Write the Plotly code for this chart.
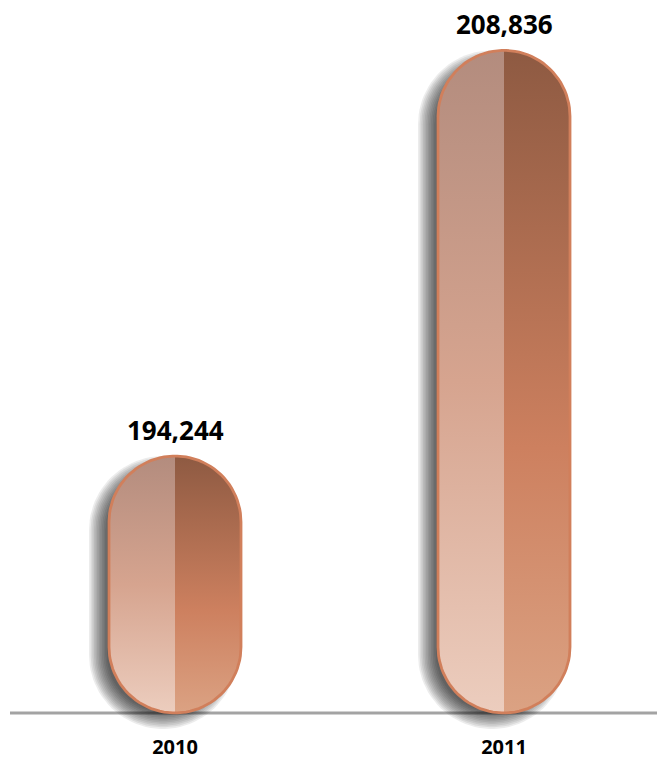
import numpy as np
import plotly.graph_objects as go

# ---- data ----
years = ["2010", "2011"]
values = [194244, 208836]
axis_floor = 185000

# ---- layout geometry ----
W, H = 657, 761
M = dict(l=10, r=0, t=18, b=28)
X_RANGE = [-0.50152, 1.46505]
Y_RANGE = [184280, 210000]
kx = (W - M["l"] - M["r"]) / (X_RANGE[1] - X_RANGE[0])
ky = (H - M["t"] - M["b"]) / (Y_RANGE[1] - Y_RANGE[0])

HALF_W = 66  # px half width of the pill


def pill(cx, base, top, half, grow=0.0, dx=0.0, dy=0.0, side=None, n=48):
    """Pill outline in data coords; internal math in pixel units (y up)."""
    X0 = cx * kx + dx
    Yb = base * ky + half + dy
    Yt = top * ky - half + dy
    r = half + grow
    if side == "left":
        a1 = np.linspace(np.pi / 2, np.pi, n)
        a2 = np.linspace(np.pi, 1.5 * np.pi, n)
        xs = np.concatenate([X0 + r * np.cos(a1), X0 + r * np.cos(a2), [X0 + r * np.cos(a1[0])]])
        ys = np.concatenate([Yt + r * np.sin(a1), Yb + r * np.sin(a2), [Yt + r * np.sin(a1[0])]])
    elif side == "right":
        a1 = np.linspace(1.5 * np.pi, 2 * np.pi, n)
        a2 = np.linspace(0, np.pi / 2, n)
        xs = np.concatenate([X0 + r * np.cos(a1), X0 + r * np.cos(a2), [X0 + r * np.cos(a1[0])]])
        ys = np.concatenate([Yb + r * np.sin(a1), Yt + r * np.sin(a2), [Yb + r * np.sin(a1[0])]])
    else:
        a1 = np.linspace(0, np.pi, n)
        a2 = np.linspace(np.pi, 2 * np.pi, n)
        xs = np.concatenate([X0 + r * np.cos(a1), X0 + r * np.cos(a2), [X0 + r]])
        ys = np.concatenate([Yt + r * np.sin(a1), Yb + r * np.sin(a2), [Yt]])
    return xs / kx, ys / ky


fig = go.Figure()
xpos = list(range(len(years)))

# soft drop shadows
N_SH = 12
for cx, v in zip(xpos, values):
    for i in range(N_SH):
        g = -10 + 18 * i / (N_SH - 1)
        xs, ys = pill(cx, axis_floor, v, HALF_W, grow=g, dx=-12, dy=-8)
        fig.add_trace(go.Scatter(x=xs, y=ys, mode="lines", fill="toself",
                                 fillcolor="rgba(0,0,0,0.075)", line=dict(width=0),
                                 hoverinfo="skip", showlegend=False))

LEFT_SCALE = [[0, "#ECCDBE"], [0.5, "#D6A48F"], [1, "#B38C7E"]]
RIGHT_SCALE = [[0, "#DBA283"], [0.4, "#CD805F"], [1, "#8E5A42"]]

for cx, v in zip(xpos, values):
    for side, cs in (("left", LEFT_SCALE), ("right", RIGHT_SCALE)):
        xs, ys = pill(cx, axis_floor, v, HALF_W, side=side)
        fig.add_trace(go.Scatter(x=xs, y=ys, mode="lines", fill="toself",
                                 fillgradient=dict(type="vertical", colorscale=cs),
                                 line=dict(width=0), hoverinfo="skip", showlegend=False))
    xs, ys = pill(cx, axis_floor, v, HALF_W)
    fig.add_trace(go.Scatter(x=xs, y=ys, mode="lines", line=dict(color="#D17F5B", width=2.8),
                             hoverinfo="skip", showlegend=False))

for cx, v in zip(xpos, values):
    fig.add_annotation(x=cx, y=v, text=f"{v:,}", showarrow=False, yanchor="middle", yshift=26,
                       font=dict(family="Open Sans", size=26, color="#000000", weight="bold"))

fig.add_shape(type="line", xref="paper", x0=0, x1=1, yref="y", y0=axis_floor, y1=axis_floor,
              line=dict(color="#A3A3A3", width=3), layer="below")

fig.update_layout(
    width=W, height=H, margin=M,
    paper_bgcolor="white", plot_bgcolor="white",
    xaxis=dict(range=X_RANGE, tickvals=xpos, ticktext=years, showgrid=False, zeroline=False,
               showline=False, ticks="", fixedrange=True, ticklabelstandoff=0, automargin=False,
               tickfont=dict(family="Open Sans", size=20, color="#000000", weight="bold")),
    yaxis=dict(range=Y_RANGE, visible=False, fixedrange=True, automargin=False),
    showlegend=False,
)

fig.write_html("out.html", config={"displayModeBar": False},
               post_script="document.body.style.margin='0';document.body.style.overflow='hidden';")
